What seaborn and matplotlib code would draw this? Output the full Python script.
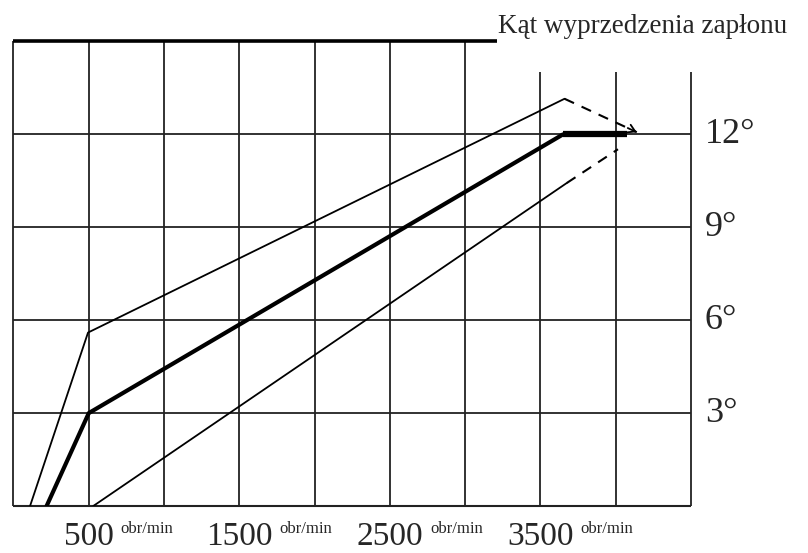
import matplotlib
matplotlib.use("Agg")
import matplotlib.pyplot as plt
import seaborn as sns
import pandas as pd

# ---------- Data ----------
title = "Kąt wyprzedzenia zapłonu"
rpm_labels = [500, 1500, 2500, 3500]
rpm_unit = "obr/min"
deg_ticks = [3, 6, 9, 12]
deg_labels = ["3°", "6°", "9°", "12°"]

# middle (nominal) curve
mid_rpm = [220, 500, 3650]
mid_deg = [0, 3.0, 12.0]
mid_flat_rpm = [3650, 4075]
mid_flat_deg = [12.0, 12.0]

# upper tolerance curve
up_rpm = [110, 495, 3660]
up_deg = [0, 5.6, 13.15]
up_dash_rpm = [3660, 4140]
up_dash_deg = [13.15, 12.07]

# lower tolerance curve
low_rpm = [530, 3675]
low_deg = [0, 10.43]
low_dash_rpm = [3675, 4015]
low_dash_deg = [10.43, 11.52]

# grid
grid_full_x = [0, 500, 1000, 1500, 2000, 2500, 3000]
grid_short_x = [3500, 4000, 4500]
grid_y = [0, 3, 6, 9, 12]

sns.set_style("white")
plt.rcParams['font.family'] = ['Liberation Serif', 'DejaVu Serif']

fig = plt.figure(figsize=(8.08, 5.53), dpi=100)
ax = fig.add_axes([0.0167, 0.0850, 0.8385, 0.8400])
ax.set_xlim(0, 4500)
ax.set_ylim(0, 15)
for s in ax.spines.values():
    s.set_visible(False)
ax.set_xticks([])
ax.set_yticks([])

gc = "#222222"
ax.vlines(grid_full_x, 0, 15, color=gc, lw=1.3, clip_on=False)
ax.vlines(grid_short_x, 0, 14, color=gc, lw=1.3, clip_on=False)
ax.hlines(grid_y[1:], 0, 4500, color=gc, lw=1.3, clip_on=False)
ax.hlines(0, 0, 4500, color=gc, lw=1.5, clip_on=False)
ax.hlines(15, 0, 3210, color="black", lw=2.6, clip_on=False)

# ---------- Curves ----------
def draw(xs, ys, **kw):
    df = pd.DataFrame({"rpm": xs, "deg": ys})
    sns.lineplot(data=df, x="rpm", y="deg", sort=False, estimator=None,
                 ax=ax, color="black", **kw)

draw(up_rpm, up_deg, lw=1.3)
draw(low_rpm, low_deg, lw=1.3)
draw(mid_rpm, mid_deg, lw=3.0)
draw(mid_flat_rpm, mid_flat_deg, lw=4.5, solid_capstyle="butt")
draw(up_dash_rpm, up_dash_deg, lw=1.5, linestyle=(0, (5, 4)))
draw(low_dash_rpm, low_dash_deg, lw=1.5, linestyle=(0, (5, 4)))

# arrow head at end of the upper dashed line
ax.annotate("", xy=(up_dash_rpm[1], up_dash_deg[1]),
            xytext=(up_dash_rpm[1] - 60, up_dash_deg[1] + 0.135),
            arrowprops=dict(arrowstyle="->,head_length=0.5,head_width=0.3",
                            color="black", lw=1.3, shrinkA=0, shrinkB=0))
ax.set_xlabel("")
ax.set_ylabel("")

# ---------- Labels ----------
for t, lab in zip(deg_ticks, deg_labels):
    ax.annotate(lab, xy=(4500, t), xytext=(10, 0), textcoords="offset points",
                ha="left", va="center", fontsize=26, annotation_clip=False)

for r in rpm_labels:
    num = ax.annotate(str(r), xy=(r, 0), xytext=(0, -11), textcoords="offset points",
                      ha="center", va="top", fontsize=24, annotation_clip=False)
    ax.annotate(rpm_unit, xy=(1, 1), xycoords=num, xytext=(5, 0),
                textcoords="offset points", ha="left", va="top", fontsize=12)

fig.text(498 / 808, 1 - 33 / 553, title, ha="left", va="baseline", fontsize=19.5)

fig.savefig("out.png", dpi=100)
